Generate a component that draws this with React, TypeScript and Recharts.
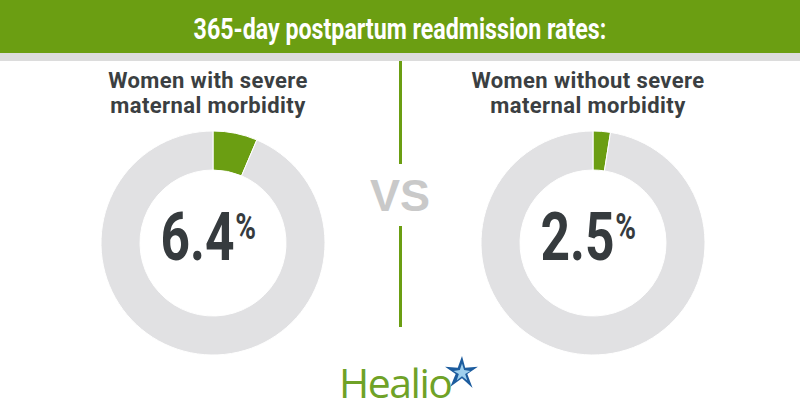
import { PieChart, Pie, Cell } from 'recharts';

const panelTitles = [
  ['Women with severe', 'maternal morbidity'],
  ['Women without severe', 'maternal morbidity'],
];
const readmissionRates = [6.4, 2.5];
const rateLabels = ['6.4', '2.5'];
const headerTitle = '365-day postpartum readmission rates:';

const GREEN = '#6b9e12';
const RING = '#e1e1e3';
const DARK = '#363b3e';

const centers = [208, 588];
const CY = 238;

export default function App() {
  const slices = readmissionRates.map(r => [
    { name: 'readmitted', value: r },
    { name: 'rest', value: +(100 - r).toFixed(1) },
  ]);

  return (
    <div style={{ position: 'absolute', left: 0, top: 0, width: 800, height: 420, background: '#fff', overflow: 'hidden', fontFamily: 'Roboto, sans-serif' }}>
      {/* header */}
      <div style={{ position: 'absolute', left: 0, top: 0, width: 800, height: 53, background: GREEN }} />
      <div style={{ position: 'absolute', left: 0, top: 53, width: 800, height: 8, background: '#dcdcdc' }} />
      <div style={{ position: 'absolute', left: 0, top: 12, width: 800, textAlign: 'center', color: '#fff', fontWeight: 700, fontSize: 29, lineHeight: '34px' }}>
        <span style={{ display: 'inline-block', transform: 'scaleX(0.8)', whiteSpace: 'nowrap' }}>{headerTitle}</span>
      </div>

      {/* divider */}
      <div style={{ position: 'absolute', left: 399, top: 61, width: 3, height: 103, background: GREEN }} />
      <div style={{ position: 'absolute', left: 399, top: 226, width: 3, height: 101, background: GREEN }} />
      <div style={{ position: 'absolute', left: 0, top: 170, width: 800, textAlign: 'center', color: '#c9c9c9', fontFamily: '"Liberation Sans", Arial, sans-serif', fontWeight: 700, fontSize: 45, lineHeight: '52px' }}>
        VS
      </div>

      <div style={{ position: 'absolute', left: 0, top: 0 }}>
        <PieChart width={800} height={420}>
          {slices.map((d, i) => (
            <Pie
              key={i}
              data={d}
              dataKey="value"
              cx={centers[i]}
              cy={CY}
              innerRadius={73}
              outerRadius={112}
              startAngle={90}
              endAngle={-270}
              stroke="#fff"
              strokeWidth={1}
              isAnimationActive={false}
            >
              <Cell fill={GREEN} />
              <Cell fill={RING} />
            </Pie>
          ))}
        </PieChart>
      </div>

      {panelTitles.map((lines, i) =>
        lines.map((line, j) => (
          <div key={`${i}-${j}`} style={{ position: 'absolute', left: centers[i] - 160, top: 68 + j * 25, width: 320, textAlign: 'center', color: '#3b3f42', fontWeight: 700, fontSize: 22, lineHeight: '25px', letterSpacing: 0.4, whiteSpace: 'nowrap' }}>
            {line}
          </div>
        ))
      )}

      {rateLabels.map((t, i) => (
        <div key={i} style={{ position: 'absolute', left: centers[i] - 100, top: 198, width: 200, textAlign: 'center', color: DARK, fontWeight: 700 }}>
          <span style={{ display: 'inline-block', transform: 'scaleX(0.78)', whiteSpace: 'nowrap' }}>
            <span style={{ fontSize: 66, lineHeight: '80px' }}>{t}</span>
            <span style={{ fontSize: 36, verticalAlign: 'top', position: 'relative', top: 8, marginLeft: 1 }}>%</span>
          </span>
        </div>
      ))}

      {/* logo */}
      <div style={{ position: 'absolute', left: 339, top: 358, color: '#6fa227', fontSize: 41, lineHeight: '48px', fontFamily: '"Open Sans", Roboto, sans-serif', letterSpacing: -1.5 }}>
        Healio
      </div>
      <svg style={{ position: 'absolute', left: 444, top: 354 }} width={36} height={36} viewBox="0 0 34 34">
        <polygon points="17,2 20,13 32,12 22,19 27,32 17,23 6,31 11,19 1,12 13,13" fill="#1c5c9e" />
        <polygon points="17,9 19,15 25,16 20,19 22,25 17,21 12,25 14,19 9,16 15,15" fill="#9fd0ee" />
      </svg>
    </div>
  );
}
